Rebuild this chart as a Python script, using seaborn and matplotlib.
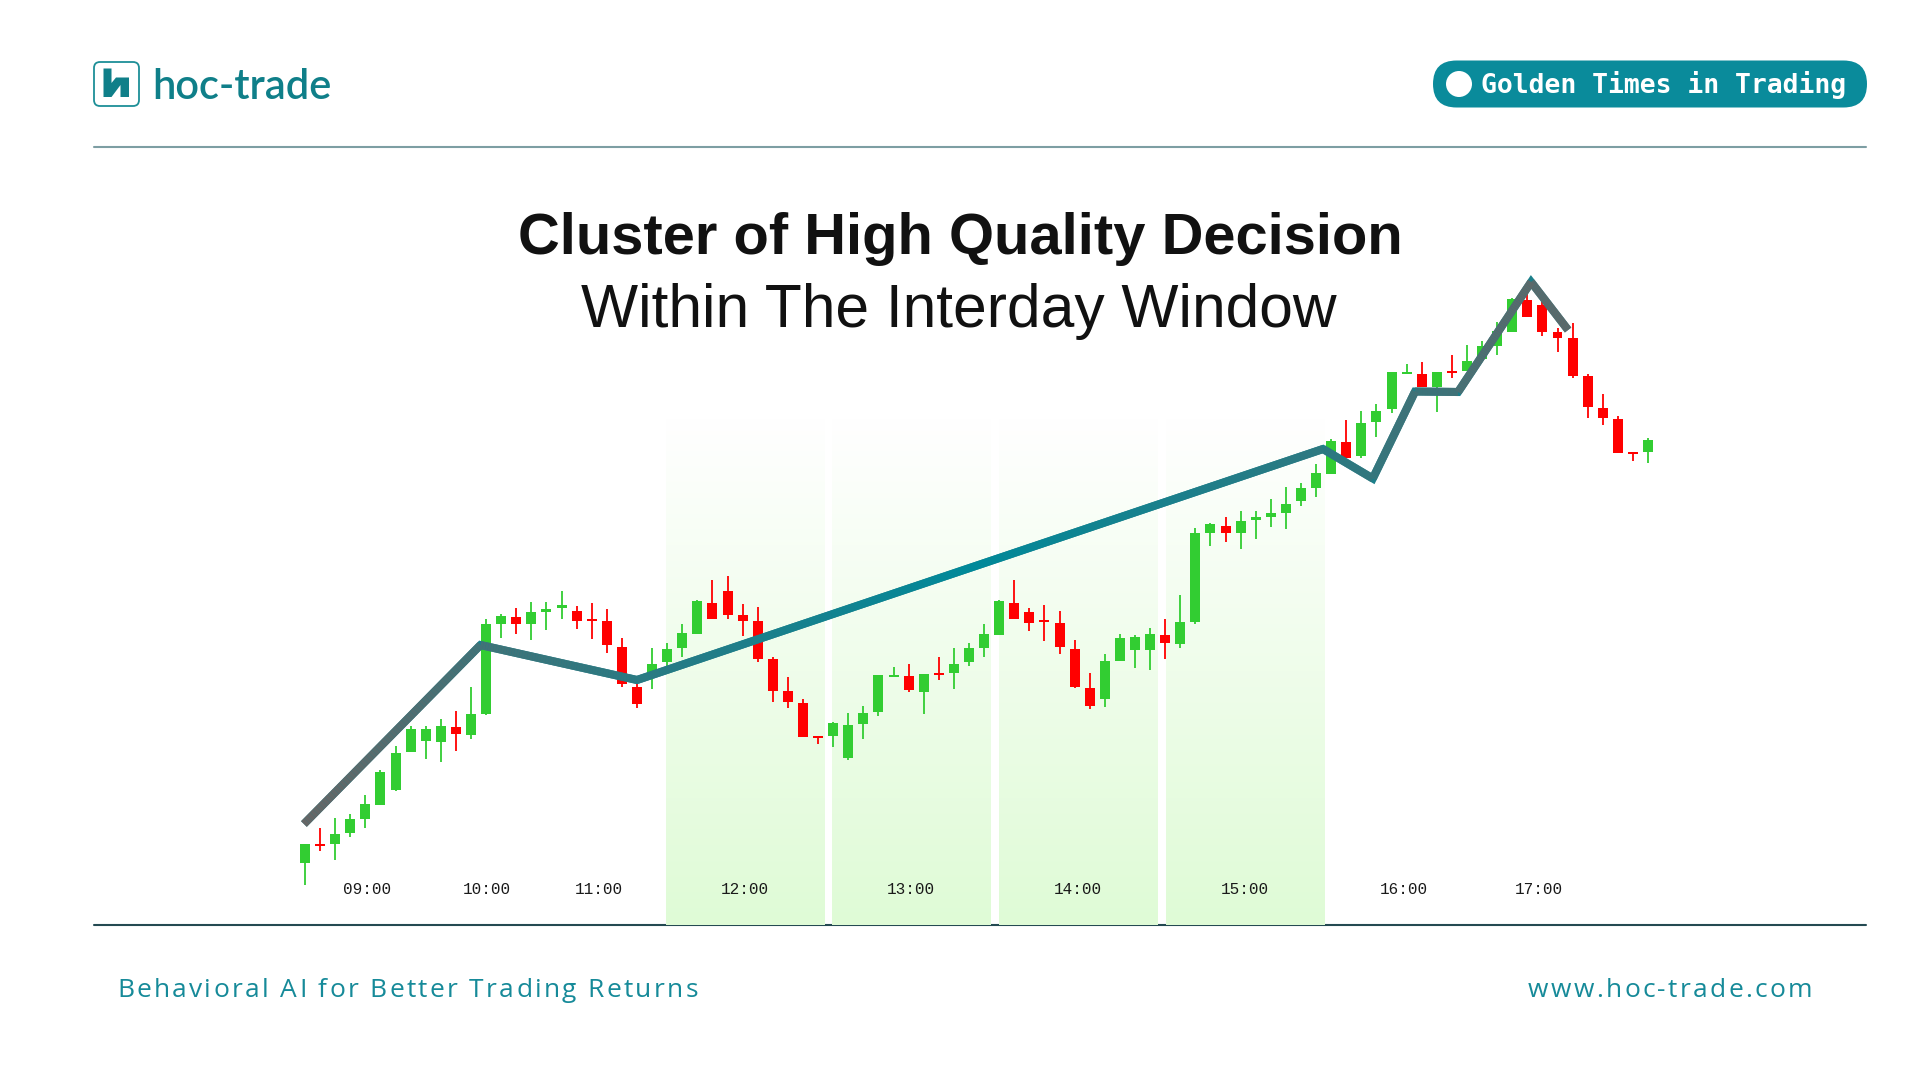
import matplotlib
matplotlib.use("Agg")
import numpy as np
import pandas as pd
import matplotlib.pyplot as plt
import seaborn as sns
from matplotlib.patches import FancyBboxPatch, Circle, Polygon
from matplotlib.collections import LineCollection
from matplotlib.colors import LinearSegmentedColormap, to_rgb
from matplotlib.font_manager import FontProperties

sns.set_theme(style="white")
plt.rcParams["font.family"] = ["DejaVu Sans"]

# -----------------------------
# Data
# -----------------------------
opens = [21.7, 23.6, 23.6, 24.7, 26.1, 27.5, 29.0, 32.8, 33.9, 33.8,
         35.3, 34.5, 36.6, 45.6, 46.3, 45.6, 46.8, 47.2, 46.9, 46.0,
         45.9, 43.3, 39.3, 40.7, 41.8, 43.2, 44.6, 47.7, 48.9, 46.5,
         45.9, 42.1, 38.9, 37.7, 34.4, 34.4, 32.2, 35.6, 36.8, 40.3,
         40.4, 38.8, 40.7, 40.7, 41.8, 43.2, 44.5, 47.7, 46.8, 45.9,
         45.7, 43.1, 39.2, 38.1, 41.9, 43.0, 43.0, 44.5, 43.6, 45.8,
         54.7, 55.4, 54.7, 56.0, 56.3, 56.7, 57.9, 59.2, 60.6, 63.8,
         62.4, 65.8, 67.1, 70.6, 70.6, 69.3, 70.9, 70.9, 72.1, 73.4,
         74.8, 78.0, 77.5, 74.8, 74.2, 70.4, 67.2, 66.1, 62.8, 62.8]
highs = [23.6, 25.2, 26.2, 26.6, 28.5, 31.0, 33.4, 35.4, 35.4, 36.1,
         36.9, 39.3, 46.1, 46.6, 47.2, 47.8, 47.8, 48.9, 47.4, 47.7,
         47.1, 44.2, 39.7, 43.2, 43.7, 45.6, 48.0, 50.0, 50.4, 47.6,
         47.3, 42.3, 40.3, 38.1, 34.4, 35.8, 36.7, 37.4, 40.5, 41.3,
         41.6, 40.6, 42.3, 43.2, 43.7, 45.6, 48.0, 50.0, 47.2, 47.5,
         46.9, 44.0, 40.7, 42.6, 44.6, 44.5, 45.2, 46.1, 48.5, 55.2,
         55.7, 56.3, 56.9, 56.9, 58.1, 59.3, 59.7, 61.6, 64.1, 66.0,
         66.9, 67.6, 70.8, 71.6, 71.8, 70.8, 72.5, 73.5, 73.9, 75.8,
         78.2, 78.7, 78.7, 75.2, 75.7, 70.6, 68.6, 66.4, 62.8, 64.2]
lows = [19.5, 22.9, 22.0, 24.3, 25.2, 27.5, 28.9, 32.8, 32.1, 31.8,
        32.9, 34.1, 36.5, 44.2, 44.6, 44.0, 45.0, 46.1, 45.1, 44.1,
        42.7, 39.3, 37.2, 39.1, 41.4, 42.3, 44.6, 46.1, 46.1, 44.4,
        41.8, 37.8, 37.2, 34.3, 33.6, 33.3, 32.0, 34.1, 36.4, 40.3,
        38.8, 36.6, 40.0, 39.1, 41.4, 42.3, 44.5, 46.1, 44.9, 43.9,
        42.6, 39.2, 37.1, 37.3, 41.9, 41.2, 41.0, 42.1, 43.2, 45.6,
        53.4, 53.8, 53.1, 54.1, 55.3, 55.1, 57.4, 58.3, 60.6, 62.2,
        62.2, 64.3, 66.7, 70.6, 69.3, 66.8, 70.2, 70.9, 71.8, 72.5,
        74.8, 76.3, 74.4, 72.8, 70.2, 66.2, 65.5, 62.7, 61.9, 61.7]
closes = [23.6, 23.4, 24.6, 26.1, 27.6, 30.8, 32.7, 35.1, 35.1, 35.4,
          34.6, 36.6, 45.6, 46.4, 45.6, 46.8, 47.1, 47.5, 45.9, 45.9,
          43.5, 39.6, 37.6, 41.6, 43.1, 44.7, 47.9, 46.1, 46.5, 45.9,
          42.1, 38.9, 37.8, 34.3, 34.2, 35.7, 35.5, 36.7, 40.5, 40.5,
          39.0, 40.6, 40.5, 41.6, 43.2, 44.6, 47.9, 46.1, 45.7, 45.8,
          43.3, 39.3, 37.4, 41.9, 44.2, 44.3, 44.6, 43.7, 45.8, 54.7,
          55.6, 54.7, 55.9, 56.3, 56.7, 57.6, 59.2, 60.7, 63.9, 62.2,
          65.7, 66.9, 70.8, 70.8, 69.3, 70.8, 70.7, 71.9, 73.4, 74.9,
          78.1, 76.3, 74.8, 74.2, 70.4, 67.3, 66.2, 62.7, 62.6, 64.0]

# trend polyline (candle index, price)
trend_x = [-0.07, 11.63, 22.0, 67.46, 70.76, 73.56, 76.41, 81.25, 83.7]
trend_y = [25.6, 43.5, 40.0, 63.1, 60.15, 68.85, 68.8, 79.8, 75.0]

tick_labels = ["09:00", "10:00", "11:00", "12:00", "13:00", "14:00", "15:00", "16:00", "17:00"]
tick_pos = [4.11, 12.06, 19.48, 29.16, 40.16, 51.23, 62.29, 72.83, 81.78]
golden_hours = ["12:00", "13:00", "14:00", "15:00"]

df = pd.DataFrame({"open": opens, "high": highs, "low": lows, "close": closes})
df["x"] = np.arange(len(df))
df["up"] = df["close"] >= df["open"]

# -----------------------------
# Colours
# -----------------------------
TEAL = "#0f7f89"
PILL = "#0a8b9b"
GREEN = "#32cd32"
RED = "#ff0000"
FOOT = "#168a99"

# -----------------------------
# Figure
# -----------------------------
fig = plt.figure(figsize=(19.2, 10.8), dpi=100)
fig.patch.set_facecolor("white")

# pixel-space layer for header / footer decorations
deco = fig.add_axes([0, 0, 1, 1])
deco.set_xlim(0, 1920)
deco.set_ylim(1080, 0)
deco.axis("off")

ax = fig.add_axes([0, 0, 1, 1])
ax.patch.set_alpha(0)
ax.axis("off")
XLIM = (-20.21, 107.02)
YLIM = (0, 108)

# golden-hour bands with a soft vertical gradient
band_half = 5.265
top_rgb = np.array([1.0, 1.0, 1.0])
bot_rgb = np.array(to_rgb("#dffbd6"))
g = np.linspace(0, 1, 256)[:, None]
grad = (top_rgb * (1 - g) + bot_rgb * g)[:, None, :]
for lab, pos in zip(tick_labels, tick_pos):
    if lab in golden_hours:
        ax.imshow(grad, extent=[pos - band_half, pos + band_half, 15.5, 66.2],
                  origin="upper", aspect="auto", zorder=0, interpolation="bilinear")

# candles
w = 0.66
for up, grp in df.groupby("up"):
    col = GREEN if up else RED
    ax.vlines(grp["x"], grp["low"], grp["high"], color=col, lw=1.3, zorder=2)
    body = np.maximum((grp["close"] - grp["open"]).abs(), 0.18)
    bottom = np.minimum(grp["open"], grp["close"])
    ax.bar(grp["x"], body, bottom=bottom, width=w, color=col, linewidth=0, zorder=3)

ax.set_xlim(*XLIM)
ax.set_ylim(*YLIM)

# gradient trend line (grey -> teal -> grey along its length)
cmap = LinearSegmentedColormap.from_list(
    "trend", ["#666666", "#2f7880", "#00899a", "#2f7880", "#666666"])
pts = []
for i in range(len(trend_x) - 1):
    n = 60
    xs = np.linspace(trend_x[i], trend_x[i + 1], n, endpoint=False)
    ys = np.linspace(trend_y[i], trend_y[i + 1], n, endpoint=False)
    pts.extend(zip(xs, ys))
pts.append((trend_x[-1], trend_y[-1]))
pts = np.array(pts)
pix = ax.transData.transform(pts)
seglen = np.hypot(*np.diff(pix, axis=0).T)
cum = np.concatenate([[0], np.cumsum(seglen)])
t = cum / cum[-1]
segs = np.stack([pts[:-1], pts[1:]], axis=1)
LW = 5.8
ax.plot(trend_x, trend_y, color="#1c7f8a", lw=LW, solid_joinstyle="miter",
        solid_capstyle="butt", zorder=4)
lc = LineCollection(segs, colors=cmap((t[:-1] + t[1:]) / 2), linewidths=LW,
                    capstyle="butt", zorder=5)
ax.add_collection(lc)

# hour labels
for lab, pos in zip(tick_labels, tick_pos):
    ax.text(pos, 19.0, lab, ha="center", va="center", family="Liberation Mono",
            fontsize=11.5, color="#1a1a1a", zorder=6)

# -----------------------------
# Header / footer
# -----------------------------
renderer = fig.canvas.get_renderer()


def fit(txt, width):
    bw = txt.get_window_extent(renderer).width
    txt.set_fontsize(txt.get_fontsize() * width / bw)


def text_w(s, prop):
    w, _, _ = renderer.get_text_width_height_descent(s, prop, ismath=False)
    return w


def tracked(x, y, s, width, family, size, color):
    # letter-spaced line: characters placed one by one to span `width` px
    prop = FontProperties(family=family, size=size)
    bar = text_w("|", prop)
    natural = text_w(s, prop)
    track = (width - natural) / (len(s) - 1)
    for i, ch in enumerate(s):
        if ch == " ":
            continue
        off = text_w(s[:i] + "|", prop) - bar if i else 0
        deco.text(x + off + i * track, y, ch, fontproperties=prop, color=color,
                  ha="left", va="baseline")


deco.plot([94, 1866], [147, 147], color="#7d9ea3", lw=1.5)
deco.plot([94, 1866], [925, 925], color="#244a52", lw=1.5)

# logo
deco.add_patch(FancyBboxPatch((94, 62), 45, 44, boxstyle="round,pad=0,rounding_size=6",
                              fc="none", ec="#1d8f97", lw=1.3))
deco.add_patch(Polygon([(103.5, 68.5), (111.5, 68.5), (111.5, 83), (116, 77.5), (129, 77.5),
                        (129, 97), (120.5, 97), (120.5, 85), (111.5, 97), (103.5, 97)],
                       closed=True, fc=TEAL, ec="none"))
t_logo = deco.text(152, 99.3, "hoc-trade", family="Lato", fontweight="semibold",
                   fontsize=29, color=TEAL, ha="left", va="baseline")
fit(t_logo, 179)

# pill badge
deco.add_patch(FancyBboxPatch((1433, 60.5), 434, 47, boxstyle="round,pad=0,rounding_size=23.5",
                              fc=PILL, ec="none"))
deco.add_patch(Circle((1459, 84), 13, fc="white", ec="none"))
t_pill = deco.text(1481, 93.3, "Golden Times in Trading", family="DejaVu Sans Mono",
                   fontweight="bold", fontsize=19, color="white", ha="left", va="baseline")
fit(t_pill, 366)

# titles
t1 = deco.text(960.5, 253.5, "Cluster of High Quality Decision", family="Liberation Sans",
               fontweight="bold", fontsize=42, color="#111111", ha="center", va="baseline")
fit(t1, 886)
t2 = deco.text(959, 327, "Within The Interday Window", family="Liberation Sans",
               fontsize=42, color="#111111", ha="center", va="baseline")
fit(t2, 756)

# footer (letter-spaced)
tracked(117, 996.7, "Behavioral AI for Better Trading Returns", 581, "Open Sans", 19, FOOT)
tracked(1528, 996.7, "www.hoc-trade.com", 284, "Open Sans", 19, FOOT)

fig.savefig("out.png", dpi=100, facecolor="white")
plt.close(fig)
